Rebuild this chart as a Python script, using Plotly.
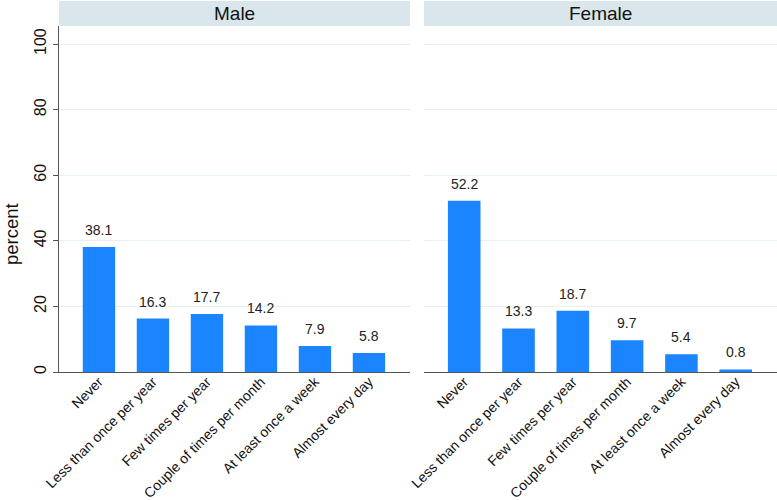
import plotly.graph_objects as go

categories = ["Never", "Less than once per year", "Few times per year",
              "Couple of times per month", "At least once a week", "Almost every day"]
male = [38.1, 16.3, 17.7, 14.2, 7.9, 5.8]
female = [52.2, 13.3, 18.7, 9.7, 5.4, 0.8]
panels = ["Male", "Female"]
yticks = [0, 20, 40, 60, 80, 100]

BAR = "#1a85ff"
GRID = "#e6eff1"
HEAD = "#d9e6eb"
AX = "#555555"
FONT = "Liberation Sans, Arial, sans-serif"

W, H = 777, 500
ML, MR, MT, MB = 59, 0, 26, 128
pw = W - ML - MR
ph = H - MT - MB
dom1 = [0, 351 / pw]
dom2 = [(424 - ML) / pw, 1]

fig = go.Figure()
for i, (vals, name) in enumerate(zip([male, female], panels)):
    xa = "x" if i == 0 else "x2"
    fig.add_trace(go.Bar(x=categories, y=vals, xaxis=xa, yaxis="y" if i == 0 else "y2",
                         marker=dict(color=BAR, line=dict(width=0)), width=0.6,
                         showlegend=False, hoverinfo="skip"))
    for c, v in zip(categories, vals):
        fig.add_annotation(x=c, y=v, xref=xa, yref="y" if i == 0 else "y2",
                           text=f"{v:.1f}", showarrow=False, yanchor="bottom",
                           yshift=7, font=dict(size=14, color="#222", family=FONT))

common_x = dict(type="category", range=[-0.74, 5.76], tickangle=-45, automargin=False,
                tickfont=dict(size=14, color="#111", family=FONT), ticklabelstandoff=-5,
                showline=True, linecolor=AX, linewidth=1.3, ticks="", showgrid=False,
                zeroline=False, fixedrange=True)
common_y = dict(range=[0, 105.5], tickvals=yticks, showgrid=True, gridcolor=GRID,
                gridwidth=1, zeroline=False, automargin=False)

fig.update_layout(
    width=W, height=H,
    margin=dict(l=ML, r=MR, t=MT, b=MB, pad=0, autoexpand=False),
    paper_bgcolor="white", plot_bgcolor="white",
    bargap=0.4,
    font=dict(family=FONT, color="#111"),
    xaxis=dict(domain=dom1, anchor="y", **common_x),
    xaxis2=dict(domain=dom2, anchor="y2", **common_x),
    yaxis=dict(anchor="x", showline=True, linecolor=AX, linewidth=1.3, ticks="outside",
               ticklen=5, tickcolor=AX, tickangle=-90,
               tickfont=dict(size=16, color="#111", family=FONT),
               **common_y),
    yaxis2=dict(anchor="x2", showline=False, showticklabels=False, ticks="", matches="y",
                **common_y),
)

# y-axis title
fig.add_annotation(xref="paper", yref="paper", x=(12 - ML) / pw, y=(H - MB - 234) / ph,
                   text="percent", textangle=-90, showarrow=False,
                   xanchor="center", yanchor="middle",
                   font=dict(size=18.5, color="#111", family=FONT))

hy1 = 1 + 25 / ph
for dom, name in zip([dom1, dom2], panels):
    fig.add_shape(type="rect", xref="paper", yref="paper", x0=dom[0], x1=dom[1],
                  y0=1, y1=hy1, fillcolor=HEAD, line=dict(width=0), layer="below")
    fig.add_annotation(xref="paper", yref="paper", x=(dom[0] + dom[1]) / 2, y=(1 + hy1) / 2,
                       text=name, showarrow=False, xanchor="center", yanchor="middle",
                       font=dict(size=19, color="#111", family=FONT))

fig.write_html("out.html")
